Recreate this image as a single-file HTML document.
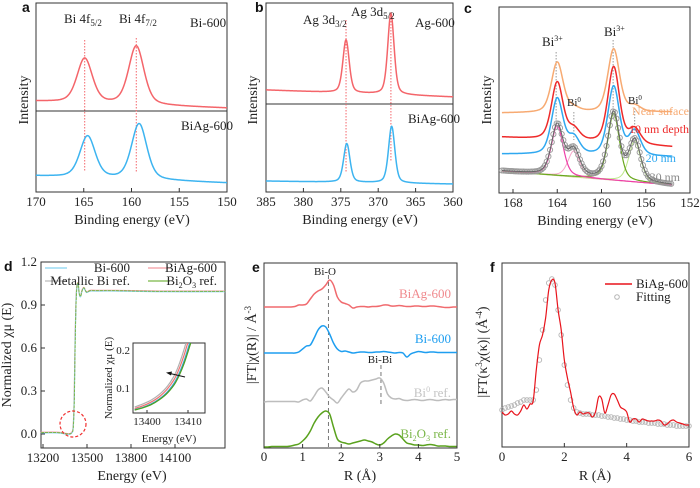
<!DOCTYPE html>
<html><head><meta charset="utf-8">
<style>
html,body{margin:0;padding:0;background:#fff;}
svg{display:block;font-family:"Liberation Serif",serif;}
.t{font-size:13px;fill:#222;}
.ti{font-size:14px;fill:#222;}
.lt{font-family:"Liberation Sans",sans-serif;font-weight:bold;font-size:14px;fill:#111;}
</style></head>
<body>
<svg id="fig" width="700" height="488" viewBox="0 0 700 488"></svg>
<script>
// ---------- data ----------
const aEnergyRange = [170, 150];
const aTicks = [170, 165, 160, 155, 150];
const aRedPeaks = [164.9, 159.5];
const aRedAmps = [23.5, 31];
const aRedBase = [48, 44.4];
const aBluePeaks = [164.6, 159.2];
const aBlueAmps = [22, 29.5];
const aBlueBase = [8.5, 4.8];
const bEnergyRange = [385, 360];
const bTicks = [385, 380, 375, 370, 365, 360];
const bRedPeaks = [374.3, 368.3];
const bRedAmps = [28, 43];
const bRedBase = [54, 50.3];
const bBluePeaks = [374.2, 368.2];
const bBlueAmps = [20.5, 30];
const bBlueBase = [5.8, 4.2];
const cEnergyRange = [169, 153.6];
const cTicks = [168, 164, 160, 156, 152];
const cPeaks = [164.0, 162.5, 158.9, 157.0];
const cOrangeAmps = [27, 2, 34, 3];
const cRedAmps = [31, 6, 41, 8];
const cBlueAmps = [30, 9, 37, 13];
const cGrayAmps = [27, 14, 36, 22];
const cOrangeBase = [43, 43.5];
const cRedBase = [30, 24.7];
const cBlueBase = [20.9, 19.4];
const cGrayBase = [11.8, 4.3];
const dTicksX = [13200, 13500, 13800, 14100];
const dTicksY = [0.0, 0.3, 0.6, 0.9, 1.2];
const dEnergy = [13185, 13300, 13370, 13395, 13405, 13412, 13418, 13424, 13430, 13438, 13446, 13455, 13465, 13478, 13495, 13520, 13560, 13700, 14000, 14440];
const dMu = [0.01, 0.01, 0.0, 0.01, 0.05, 0.25, 0.65, 0.92, 1.03, 1.05, 0.98, 0.96, 1.0, 1.02, 0.99, 1.0, 1.0, 1.0, 0.995, 0.995];
const insetEnergy = [13397, 13399, 13401, 13403, 13405, 13407, 13409, 13411];
const insetGrey = [0.050, 0.058, 0.068, 0.083, 0.105, 0.140, 0.200, 0.280];
const insetPink = [0.046, 0.053, 0.063, 0.077, 0.098, 0.130, 0.185, 0.260];
const insetBlue = [0.043, 0.049, 0.058, 0.071, 0.090, 0.120, 0.170, 0.240];
const insetGreen = [0.042, 0.048, 0.056, 0.069, 0.087, 0.115, 0.163, 0.230];
const eTicks = [0, 1, 2, 3, 4, 5];
const eBiAg = [0,0,0,0,0,0,0,0,0.5,2,2,3,8,13,16,18,22,27,22,10,5,3.5,2,-1,0,0.5,0.5,0,0.5,0.5,1,2,2,1,1,1.5,1,0.5,0.5,1,1,0.5,0.5,1,1,0.5,0,-0.5,-0.5,0,0];
const eBi = [0,0,0,0,0,0,0,0,0,1,4,7,8,15,23,27,26,19,10,4,1.5,2,1,0,0.5,1,1,0.5,0.5,1,1,1.5,1,0.5,0,0.5,0,-4,-1,0.5,1.5,1,0.5,1,1,0.5,0.5,0.5,0.5,0.5,0.5];
const eBi0 = [0,0.5,0.5,0.5,0.5,0.5,0.5,0.5,0.5,0,2,3,1,6,12,14,10,5,2,-1,4,9,13,10,12,19,21,21,22,23,24,19,8,4,3,3.5,2,1.5,2,2.5,2,1.5,2,2.5,2,1.5,2,2.5,2,2.5,2.5];
const eBi2O3 = [0,0,0.5,0.5,0.5,0.5,0.5,1,2,3,6,10,16,24,30,34,36,33,20,8,5,4,3,4,5,6,7,6,5,3,2,4,8,11,13,12,8,4,3,2,2,1.5,2,2.5,2,1,1,1,0.5,0.5,0.5];
const fTicks = [0, 2, 4, 6];
const fData = [35,32,33,36,33,32,36,42,38,43,46,77,102,112,129,157,167,164,137,117,87,69,55,39,32,35,33,34,34,30,35,50,48,34,42,52,53,47,40,38,35,25,28,28,25,28,27,26,26,26,27,26,22,23,26,27,25,24,23,22,22];
const fFit = [37,39,40,41,42,44,45,47,47,47,47,57,87,117,147,164,168,162,137,112,82,62,47,39,35,34,33,33,33,32,32,32,31,31,30,30,29,29,28,28,27,27,26,26,25,25,25,24,24,24,23,23,23,22,22,22,21,21,21,21,21];

// ---------- helpers ----------
const NS = 'http://www.w3.org/2000/svg';
const svg = document.getElementById('fig');
function mk(tag, attrs, parent) {
  const el = document.createElementNS(NS, tag);
  for (const k in attrs) el.setAttribute(k, attrs[k]);
  (parent || svg).appendChild(el);
  return el;
}
function lin(d0, d1, r0, r1) { return v => r0 + (v - d0) * (r1 - r0) / (d1 - d0); }
function smooth(p) {
  let d = 'M' + p[0][0].toFixed(2) + ',' + p[0][1].toFixed(2);
  for (let i = 0; i < p.length - 1; i++) {
    const p0 = p[i - 1] || p[i], p1 = p[i], p2 = p[i + 1], p3 = p[i + 2] || p2;
    const c1 = [p1[0] + (p2[0] - p0[0]) / 6, p1[1] + (p2[1] - p0[1]) / 6];
    const c2 = [p2[0] - (p3[0] - p1[0]) / 6, p2[1] - (p3[1] - p1[1]) / 6];
    d += 'C' + c1[0].toFixed(2) + ',' + c1[1].toFixed(2) + ' ' + c2[0].toFixed(2) + ',' + c2[1].toFixed(2) + ' ' + p2[0].toFixed(2) + ',' + p2[1].toFixed(2);
  }
  return d;
}
function pv(x, c, w) { const g = Math.exp(-4 * Math.LN2 * ((x - c) / w) ** 2); const l = 1 / (1 + 4 * ((x - c) / w) ** 2); return 0.6 * g + 0.4 * l; }
function text(x, y, s, cls, anchor, name, extra) {
  const ex = extra || {};
  const attrs = { x: x, y: y, class: cls, 'text-anchor': anchor || 'start' };
  if (ex.transform) attrs.transform = ex.transform;
  const el = mk('text', attrs);
  if (ex.fill) el.style.fill = ex.fill;
  if (ex['font-size']) el.style.fontSize = ex['font-size'] + 'px';
  el.innerHTML = s;
  
  
  return el;
}
function frame(x0, y0, x1, y1, name) {
  const el = mk('rect', { x: x0, y: y0, width: x1 - x0, height: y1 - y0, fill: 'none', stroke: '#333', 'stroke-width': 1 });
  
  
}
function xTicks(ticks, sx, yb, ylab, name, dp) {
  ticks.forEach(t => {
    const tk = mk('line', { x1: sx(t), x2: sx(t), y1: yb, y2: yb - 4, stroke: '#333' });
    
    
    text(sx(t), ylab, dp ? t.toFixed(dp) : String(t), 't', 'middle', name + '-tick-label');
  });
}
function curve(pts, color, w, name, dash) {
  const el = mk('path', { d: smooth(pts), fill: 'none', stroke: color, 'stroke-width': w, 'stroke-dasharray': dash || 'none' });
  
  
  return el;
}
function vline(x, y0, y1, color, name, dash) {
  const el = mk('line', { x1: x, x2: x, y1: y0, y2: y1, stroke: color, 'stroke-width': 1, 'stroke-dasharray': dash || '1.5,1.5' });
  
  
}
function xps(range, peaks, amps, base, w, sx, sy, step) {
  const pts = [];
  for (let e = range[0]; (range[0] > range[1]) ? e >= range[1] - 1e-9 : e <= range[1]; e += (range[0] > range[1] ? -step : step)) {
    const f = (e - range[0]) / (range[1] - range[0]);
    let v = base[0] + (base[1] - base[0]) * f;
    peaks.forEach((p, i) => v += amps[i] * pv(e, p, w));
    pts.push([sx(e), sy(v)]);
  }
  return pts;
}
function ytitle(x, y, s, name) {
  return text(x, y, s, 'ti', 'middle', name, { transform: 'rotate(-90 ' + x + ' ' + y + ')' });
}

// ---------- panel a ----------
(function () {
  const sx = lin(170, 150, 36, 227), sy = lin(0, 100, 192, 3);
  frame(36, 3, 227, 192, 'panel-a-frame');
  const dv = mk('line', { x1: 36, x2: 227, y1: 111, y2: 111, stroke: '#333' });
  
  
  vline(sx(aRedPeaks[0]), 40, 172, '#f4656a', 'a-guide-4f52');
  vline(sx(aRedPeaks[1]), 38, 172, '#f4656a', 'a-guide-4f72');
  curve(xps(aEnergyRange, aRedPeaks, aRedAmps, aRedBase, 1.9, sx, sy, 0.1), '#f4656a', 1.5, 'bi-600-curve');
  curve(xps(aEnergyRange, aBluePeaks, aBlueAmps, aBlueBase, 1.9, sx, sy, 0.1), '#3db4f0', 1.5, 'biag-600-curve');
  xTicks(aTicks, sx, 192, 206, 'a-x');
  text(132, 224, 'Binding energy (eV)', 'ti', 'middle', 'a-x-title');
  ytitle(28, 100, 'Intensity', 'a-y-title');
  text(22, 12, 'a', 'lt', 'start', 'panel-a-letter');
  text(64, 23, 'Bi 4f<tspan font-size="9" dy="3">5/2</tspan>', 't', 'start', 'label-bi4f52');
  text(119, 23, 'Bi 4f<tspan font-size="9" dy="3">7/2</tspan>', 't', 'start', 'label-bi4f72');
  text(190, 27, 'Bi-600', 't', 'start', 'label-bi-600');
  text(181, 130, 'BiAg-600', 't', 'start', 'label-a-biag-600');
})();

// ---------- panel b ----------
(function () {
  const sx = lin(385, 360, 266, 453), sy = lin(0, 100, 192, 3);
  frame(266, 3, 453, 192, 'panel-b-frame');
  const dv = mk('line', { x1: 266, x2: 453, y1: 104, y2: 104, stroke: '#333' });
  
  
  vline(sx(bRedPeaks[0]), 20, 172, '#f4656a', 'b-guide-3d32');
  vline(sx(bRedPeaks[1]), 12, 162, '#f4656a', 'b-guide-3d52');
  curve(xps(bEnergyRange, bRedPeaks, bRedAmps, bRedBase, 1.0, sx, sy, 0.1), '#f4656a', 1.5, 'ag-600-curve');
  curve(xps(bEnergyRange, bBluePeaks, bBlueAmps, bBlueBase, 1.0, sx, sy, 0.1), '#3db4f0', 1.5, 'b-biag-600-curve');
  xTicks(bTicks, sx, 192, 206, 'b-x');
  text(360, 224, 'Binding energy (eV)', 'ti', 'middle', 'b-x-title');
  ytitle(257, 100, 'Intensity', 'b-y-title');
  text(255, 12, 'b', 'lt', 'start', 'panel-b-letter');
  text(303, 24, 'Ag 3d<tspan font-size="9" dy="3">3/2</tspan>', 't', 'start', 'label-ag3d32');
  text(351, 16, 'Ag 3d<tspan font-size="9" dy="3">5/2</tspan>', 't', 'start', 'label-ag3d52');
  text(415, 27, 'Ag-600', 't', 'start', 'label-ag-600');
  text(408, 123, 'BiAg-600', 't', 'start', 'label-b-biag-600');
})();

// ---------- panel c ----------
(function () {
  const sx = lin(168, 152, 513, 690), sy = lin(0, 100, 193, 7);
  frame(499, 7, 690, 193, 'panel-c-frame');
  vline(sx(164.1), 52, 120, '#999', 'c-guide-bi3-a');
  vline(sx(158.95), 40, 110, '#999', 'c-guide-bi3-b');
  vline(sx(162.5), 112, 140, '#999', 'c-guide-bi0-a');
  vline(sx(157.0), 108, 135, '#999', 'c-guide-bi0-b');
  const bgPts = [], comp = [[], [], [], []];
  for (let e = cEnergyRange[0]; e >= cEnergyRange[1]; e -= 0.1) {
    const f = (e - cEnergyRange[0]) / (cEnergyRange[1] - cEnergyRange[0]);
    const b = cGrayBase[0] + (cGrayBase[1] - cGrayBase[0]) * f;
    bgPts.push([sx(e), sy(b)]);
    cPeaks.forEach((p, i) => comp[i].push([sx(e), sy(b + cGrayAmps[i] * pv(e, p, 1.25))]));
  }
  curve(bgPts, '#d8b48a', 1, 'c-background');
  curve(comp[1], '#f6a6c8', 1, 'c-component-bi0-a');
  curve(comp[3], '#bde88a', 1, 'c-component-bi0-b');
  curve(comp[2], '#6aa81e', 1.2, 'c-component-bi3-b');
  curve(comp[0], '#ee3fa8', 1.2, 'c-component-bi3-a');
  const g = xps(cEnergyRange, cPeaks, cGrayAmps, cGrayBase, 1.25, sx, sy, 0.1);
  const ci = xps(cEnergyRange, cPeaks, cGrayAmps, cGrayBase, 1.25, sx, sy, 0.15);
  ci.forEach(p => {
    const c = mk('circle', { cx: p[0], cy: p[1], r: 2.6, fill: 'none', stroke: '#9a9a9a', 'stroke-width': 0.9 });
    
    
  });
  curve(g, '#666', 1, 'c-30nm-fit-curve');
  curve(xps(cEnergyRange, cPeaks, cBlueAmps, cBlueBase, 1.25, sx, sy, 0.1), '#2fa8f0', 1.5, 'c-20nm-curve');
  curve(xps(cEnergyRange, cPeaks, cRedAmps, cRedBase, 1.25, sx, sy, 0.1), '#ee2a2a', 1.5, 'c-10nm-curve');
  curve(xps(cEnergyRange, cPeaks, cOrangeAmps, cOrangeBase, 1.25, sx, sy, 0.1), '#f7aa72', 1.5, 'c-near-surface-curve');
  xTicks(cTicks, sx, 193, 207, 'c-x');
  text(595, 225, 'Binding energy (eV)', 'ti', 'middle', 'c-x-title');
  ytitle(491, 100, 'Intensity', 'c-y-title');
  text(464, 13, 'c', 'lt', 'start', 'panel-c-letter');
  text(542, 46, 'Bi<tspan font-size="8" dy="-5">3+</tspan>', 't', 'start', 'label-c-bi3-a');
  text(604, 36, 'Bi<tspan font-size="8" dy="-5">3+</tspan>', 't', 'start', 'label-c-bi3-b');
  text(567, 106, 'Bi<tspan font-size="7" dy="-4">0</tspan>', 't', 'start', 'label-c-bi0-a', { 'font-size': '11' });
  text(628, 104, 'Bi<tspan font-size="7" dy="-4">0</tspan>', 't', 'start', 'label-c-bi0-b', { 'font-size': '11' });
  text(689, 115, 'Near suface', 't', 'end', 'label-near-surface', { fill: '#f7aa72', 'font-size': '12' });
  text(689, 133, '10 nm depth', 't', 'end', 'label-10nm', { fill: '#ee2a2a', 'font-size': '12' });
  text(676, 162, '20 nm', 't', 'end', 'label-20nm', { fill: '#2fa8f0', 'font-size': '12' });
  text(680, 181, '30 nm', 't', 'end', 'label-30nm', { fill: '#888', 'font-size': '12' });
})();

// ---------- panel d ----------
(function () {
  const sx = lin(13200, 13500, 43, 87), sy = lin(0, 1.2, 434, 262);
  frame(41, 262, 225, 448, 'panel-d-frame');
  const series = [['#bbbbbb', 0], ['#f49aa0', 0.003], ['#86d4f0', -0.003], ['#7ab648', 0.0]];
  const names = ['d-metallic-bi-curve', 'd-biag-600-curve', 'd-bi-600-curve', 'd-bi2o3-curve'];
  series.forEach((s, k) => {
    const pts = dEnergy.map((e, i) => [sx(e + k * 0.6), sy(dMu[i] + s[1])]);
    curve(pts, s[0], 1, names[k], k === 3 ? '3,1' : 'none');
  });
  dTicksX.forEach(t => {
    const tk = mk('line', { x1: sx(t), x2: sx(t), y1: 448, y2: 444, stroke: '#333' });
    
    
    text(sx(t), 462, String(t), 't', 'middle', 'd-x-tick-label');
  });
  dTicksY.forEach(t => {
    const tk = mk('line', { x1: 41, x2: 45, y1: sy(t), y2: sy(t), stroke: '#333' });
    
    
    text(37, sy(t) + 4, t.toFixed(1), 't', 'end', 'd-y-tick-label');
  });
  text(132, 480, 'Energy (eV)', 'ti', 'middle', 'd-x-title');
  ytitle(11, 355, 'Normalized χμ (E)', 'd-y-title');
  text(4, 271, 'd', 'lt', 'start', 'panel-d-letter');
  const circ = mk('circle', { cx: 73, cy: 424, r: 13, fill: 'none', stroke: '#f03030', 'stroke-width': 1.2, 'stroke-dasharray': '3,2' });
  
  
  const leg = [[45, 268, '#86d4f0', 'Bi-600'], [148, 268, '#f49aa0', 'BiAg-600'], [45, 281, '#bbbbbb', 'Metallic Bi ref.'], [148, 281, '#7ab648', 'Bi<tspan font-size="8" dy="3">2</tspan><tspan dy="-3">O</tspan><tspan font-size="8" dy="3">3</tspan><tspan dy="-3"> ref.</tspan>']];
  leg.forEach((l, i) => {
    const ln = mk('line', { x1: l[0], x2: l[0] + 22, y1: l[1], y2: l[1], stroke: l[2], 'stroke-width': 1.2 });
    
    
    text(i % 2 ? 217 : 130, l[1] + 4, l[3], 't', 'end', 'd-legend-label');
  });
  const ix = lin(13400, 13410, 147, 188), iy = lin(0.1, 0.2, 388, 350);
  const clip = mk('clipPath', { id: 'insetclip' });
  mk('rect', { x: 133, y: 343, width: 72, height: 70 }, clip);
  frame(133, 343, 205, 413, 'inset-frame');
  const ins = [[insetGrey, '#b0b0b0'], [insetPink, '#f07070'], [insetBlue, '#3aa0d0'], [insetGreen, '#4aa020']];
  const inames = ['inset-metallic-bi', 'inset-biag-600', 'inset-bi-600', 'inset-bi2o3'];
  ins.forEach((s, k) => {
    const c = curve(insetEnergy.map((e, i) => [ix(e), iy(s[0][i])]), s[1], 1.2, inames[k]);
    c.setAttribute('clip-path', 'url(#insetclip)');
  });
  [13400, 13410].forEach(t => {
    const tk = mk('line', { x1: ix(t), x2: ix(t), y1: 413, y2: 410, stroke: '#333' });
    
    
    text(ix(t), 425, String(t), 't', 'middle', 'inset-x-tick-label', { 'font-size': '11' });
  });
  [0.1, 0.2].forEach(t => {
    text(130, iy(t) + 4, t.toFixed(1), 't', 'end', 'inset-y-tick-label', { 'font-size': '11' });
  });
  text(169, 442, 'Energy (eV)', 't', 'middle', 'inset-x-title', { 'font-size': '11' });
  const iyt = ytitle(112, 378, 'Normalized χμ (E)', 'inset-y-title');
  iyt.style.fontSize = '11px';
  const ar = mk('line', { x1: 185, y1: 377, x2: 168, y2: 373, stroke: '#111', 'stroke-width': 1 });
  
  
  const ah = mk('path', { d: 'M166,372.6 L172,371.5 L171,375.5 Z', fill: '#111' });
  
  
})();

// ---------- panel e ----------
(function () {
  const sx = lin(0, 5, 264, 457), sy = lin(0, 185, 448, 263);
  frame(264, 263, 457, 448, 'panel-e-frame');
  vline(sx(1.67), 275, 448, '#777', 'e-bi-o-guide', '4,3');
  vline(sx(3.03), 365, 405, '#777', 'e-bi-bi-guide', '4,3');
  const sets = [[eBiAg, 141, '#f06a6e', 'e-biag-600-curve'], [eBi, 95, '#1e9ef0', 'e-bi-600-curve'], [eBi0, 46, '#bdbdbd', 'e-bi0-ref-curve'], [eBi2O3, 1, '#5aa21e', 'e-bi2o3-ref-curve']];
  sets.forEach(s => curve(s[0].map((v, i) => [sx(i * 0.1), sy(s[1] + v)]), s[2], 1.5, s[3]));
  xTicks(eTicks, sx, 448, 461, 'e-x');
  text(360, 480, 'R (Å)', 'ti', 'middle', 'e-x-title');
  ytitle(256, 345, '|FT|χ(R)| / Å<tspan font-size="9" dy="-5">-3</tspan>', 'e-y-title');
  text(252, 272, 'e', 'lt', 'start', 'panel-e-letter');
  text(325, 275, 'Bi-O', 't', 'middle', 'label-bi-o', { 'font-size': '11' });
  text(380, 363, 'Bi-Bi', 't', 'middle', 'label-bi-bi', { 'font-size': '11' });
  text(451, 298, 'BiAg-600', 't', 'end', 'label-e-biag-600', { fill: '#f08a8e' });
  text(451, 343, 'Bi-600', 't', 'end', 'label-e-bi-600', { fill: '#1e9ef0' });
  text(451, 397, 'Bi<tspan font-size="8" dy="-5">0</tspan><tspan dy="5"> ref.</tspan>', 't', 'end', 'label-e-bi0-ref', { fill: '#c5c5c5' });
  text(451, 438, 'Bi<tspan font-size="8" dy="3">2</tspan><tspan dy="-3">O</tspan><tspan font-size="8" dy="3">3</tspan><tspan dy="-3"> ref.</tspan>', 't', 'end', 'label-e-bi2o3-ref', { fill: '#7ab648' });
})();

// ---------- panel f ----------
(function () {
  const sx = lin(0, 6, 502, 689), sy = lin(0, 184, 447, 263);
  frame(502, 263, 689, 447, 'panel-f-frame');
  fFit.forEach((v, i) => {
    const c = mk('circle', { cx: sx(i * 0.1), cy: sy(v), r: 2.3, fill: 'none', stroke: '#b5b5b5', 'stroke-width': 0.9 });
    
    
  });
  curve(fData.map((v, i) => [sx(i * 0.1), sy(v)]), '#e8141c', 1.2, 'f-biag-600-curve');
  xTicks(fTicks, sx, 447, 461, 'f-x');
  text(595, 480, 'R (Å)', 'ti', 'middle', 'f-x-title');
  ytitle(487, 352, '|FT(κ<tspan font-size="9" dy="-5">3</tspan><tspan dy="5">χ(κ)| (Å</tspan><tspan font-size="9" dy="-5">-4</tspan><tspan dy="5">)</tspan>', 'f-y-title');
  text(490, 272, 'f', 'lt', 'start', 'panel-f-letter');
  const ll = mk('line', { x1: 605, x2: 632, y1: 284, y2: 284, stroke: '#e8141c', 'stroke-width': 1.5 });
  
  
  text(636, 288, 'BiAg-600', 't', 'start', 'f-legend-biag-600');
  const lc = mk('circle', { cx: 617, cy: 297, r: 2.3, fill: 'none', stroke: '#b5b5b5' });
  
  
  text(636, 301, 'Fitting', 't', 'start', 'f-legend-fitting');
})();
</script>
</body></html>
